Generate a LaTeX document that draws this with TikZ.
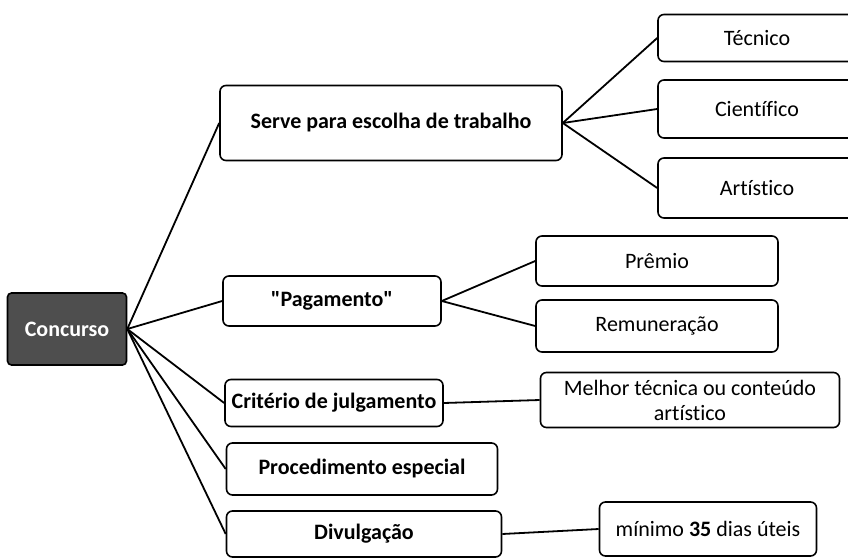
\documentclass[tikz,border=0pt]{standalone}
\usepackage{fontspec}
\setmainfont{Carlito}[Ligatures={NoCommon,TeXOff}]
\usetikzlibrary{positioning}
\definecolor{conGrey}{RGB}{78,78,78}

\begin{document}
\begin{tikzpicture}[x=1pt,y=-1pt,
  box/.style={draw,line width=1.6pt,rounded corners=6pt,fill=white,inner sep=2pt,align=center,font=\fontsize{22}{25}\selectfont},
  topic/.style={box,font=\fontsize{22}{25}\selectfont\bfseries},
  link/.style={line width=1.8pt}]
\useasboundingbox (0,0) rectangle (848,557);
\clip (0,0) rectangle (848,557);
% root
\node[topic,fill=conGrey,text=white,rounded corners=4pt,minimum width=119pt,minimum height=72pt] (con) at (67,329) {Concurso};
% first level
\node[topic,minimum width=342pt,minimum height=75pt] (srv) at (391,123) {Serve para escolha de trabalho};
\node[topic,minimum width=218pt,minimum height=50pt] (pag) at (332,301) {"Pagamento"};
\node[topic,minimum width=218pt,minimum height=47pt] (cri) at (334,403) {Critério de julgamento};
\node[topic,minimum width=271pt,minimum height=52pt] (pro) at (362,469) {Procedimento especial};
\node[topic,minimum width=275pt,minimum height=46pt] (div) at (364,534) {Divulgação};
% second level
\node[box,minimum width=198pt,minimum height=47pt] (tec) at (757,38) {Técnico};
\node[box,minimum width=198pt,minimum height=58pt] (cie) at (757,109) {Científico};
\node[box,minimum width=198pt,minimum height=60pt] (art) at (757,188) {Artístico};
\node[box,minimum width=242pt,minimum height=50pt] (pre) at (657,261) {Prêmio};
\node[box,minimum width=242pt,minimum height=52pt] (rem) at (657,326) {Remuneração};
\node[box,minimum width=299pt,minimum height=55pt] (mel) at (690,400) {Melhor técnica ou conteúdo\\artístico};
\node[box,minimum width=217pt,minimum height=54pt] (min) at (708,529) {mínimo \textbf{35} dias úteis};
% connectors
\foreach \n in {srv,pag,cri,pro,div}
  \draw[link] (con.east) -- (\n.west);
\foreach \n in {tec,cie,art}
  \draw[link] (srv.east) -- (\n.west);
\draw[link] (pag.east) -- (pre.west);
\draw[link] (pag.east) -- (rem.west);
\draw[link] (cri.east) -- (mel.west);
\draw[link] (div.east) -- (min.west);
\end{tikzpicture}
\end{document}
